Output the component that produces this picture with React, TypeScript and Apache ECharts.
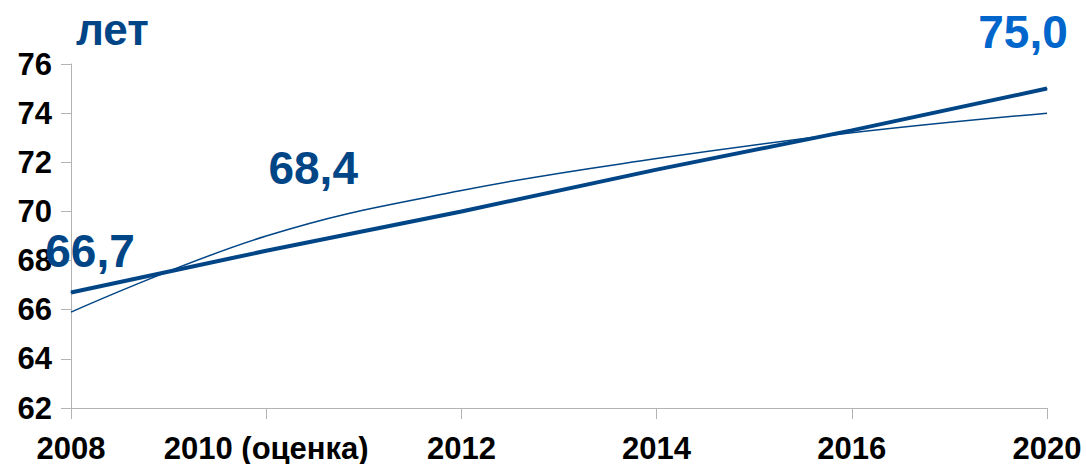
import React, { useEffect, useRef } from "react";
import * as echarts from "echarts";

const categories = ["2008", "2010 (оценка)", "2012", "2014", "2016", "2020"];
const targetValues = [66.7, 68.4, 70.0, 71.7, 73.3, 75.0];
const trendValues = [65.9, 69.0, 70.85, 72.15, 73.2, 74.0];
const labelTexts = ["66,7", "68,4", "", "", "", "75,0"];
const yTicks = { min: 62, max: 76, interval: 2 };
const unitName = "лет";

const FONT = "'Liberation Sans', Arial, sans-serif";
const DARK = "#004586";
const LIGHT = "#0066cc";

export default function App() {
  const ref = useRef<HTMLDivElement>(null);
  useEffect(() => {
    if (!ref.current) return;
    const chart = echarts.init(ref.current, undefined, { renderer: "svg" });
    const labelOffsets: Record<number, [number, number]> = {
      0: [19, -18],
      1: [47, -59],
      5: [-24, -33],
    };
    const thickData = targetValues.map((v, i) => {
      const txt = labelTexts[i];
      if (!txt) return { value: v };
      return {
        value: v,
        label: {
          show: true,
          position: "top",
          distance: 0,
          offset: labelOffsets[i],
          formatter: () => txt,
          color: i === 5 ? LIGHT : DARK,
          fontSize: 46,
          fontWeight: "bold",
          fontFamily: FONT,
        },
      };
    });
    chart.setOption({
      animation: false,
      grid: { left: 71, right: 39, top: 64, bottom: 55, containLabel: false },
      xAxis: {
        type: "category",
        data: categories,
        boundaryGap: false,
        axisLine: { lineStyle: { color: "#b3b3b3", width: 1 } },
        axisTick: { show: true, length: 11, lineStyle: { color: "#b3b3b3" } },
        axisLabel: {
          color: "#000",
          fontSize: 31,
          fontWeight: "bold",
          fontFamily: FONT,
          margin: 25,
          interval: 0,
        },
        splitLine: { show: false },
      },
      yAxis: {
        type: "value",
        min: yTicks.min,
        max: yTicks.max,
        interval: yTicks.interval,
        name: unitName,
        nameLocation: "end",
        nameGap: 13,
        nameTextStyle: {
          color: DARK,
          fontSize: 44,
          fontWeight: "bold",
          fontFamily: FONT,
          align: "left",
          verticalAlign: "bottom",
          padding: [0, 0, 0, 5],
        },
        axisLine: { show: true, lineStyle: { color: "#b3b3b3", width: 1 } },
        axisTick: { show: true, length: 10, lineStyle: { color: "#b3b3b3" } },
        axisLabel: {
          color: "#000",
          fontSize: 31,
          fontWeight: "bold",
          fontFamily: FONT,
          margin: 19,
        },
        splitLine: { show: false },
      },
      series: [
        {
          type: "line",
          data: trendValues,
          smooth: 0.4,
          showSymbol: false,
          symbol: "none",
          lineStyle: { color: DARK, width: 1.5 },
          z: 2,
        },
        {
          type: "line",
          data: thickData,
          symbol: "circle",
          symbolSize: 1,
          showSymbol: true,
          itemStyle: { color: DARK },
          lineStyle: { color: DARK, width: 4 },
          label: { show: false },
          z: 3,
        },
      ],
    });
    return () => chart.dispose();
  }, []);
  return (
    <div
      ref={ref}
      style={{ position: "fixed", left: 0, top: 0, width: 1086, height: 464, background: "#fff" }}
    />
  );
}
